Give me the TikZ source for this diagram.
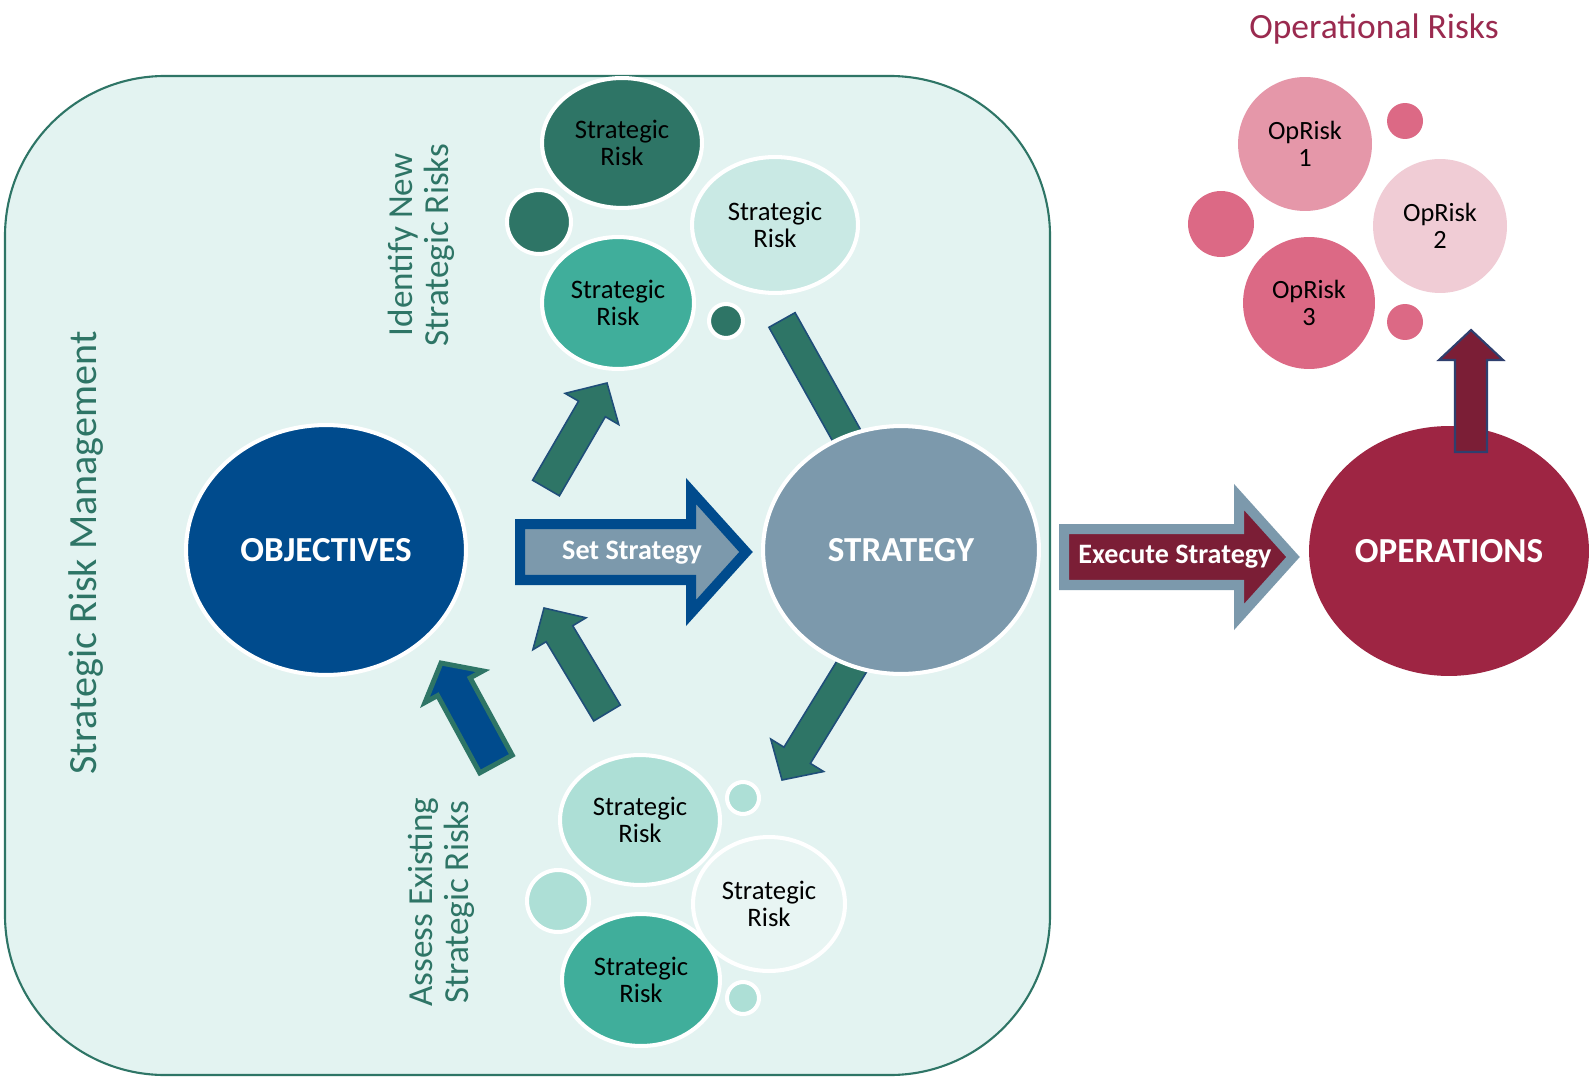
\documentclass[tikz,border=0pt]{standalone}
\usepackage{fontspec}
\setmainfont{Carlito}
\usetikzlibrary{shapes.geometric,calc}
\definecolor{bgbox}{HTML}{E3F3F1}
\definecolor{tealdark}{HTML}{2E7566}
\definecolor{tealmid}{HTML}{40AE9B}
\definecolor{teallight}{HTML}{C9E9E4}
\definecolor{tealpale}{HTML}{ADDFD6}
\definecolor{whitish}{HTML}{E8F5F3}
\definecolor{objblue}{HTML}{004B8D}
\definecolor{stratgray}{HTML}{7C99AC}
\definecolor{opsred}{HTML}{9E2543}
\definecolor{maroonA}{HTML}{7B1E36}
\definecolor{navyline}{HTML}{1F4E79}
\definecolor{upnavy}{HTML}{2F3F6E}
\definecolor{pinkA}{HTML}{E597A9}
\definecolor{pinkB}{HTML}{F0CCD5}
\definecolor{pinkC}{HTML}{DC6985}
\definecolor{optitle}{HTML}{9A2A4F}
% #1 style, #2 tail, #3 tip, #4 half shaft, #5 half head, #6 head length
\newcommand\blockarrow[6]{%
  \coordinate (ba-hb) at ($(#3)!#6!(#2)$);
  \draw[#1] ($(#2)!#4!90:(#3)$) -- ($(ba-hb)!#4!90:(#3)$) -- ($(ba-hb)!#5!90:(#3)$)
    -- (#3) -- ($(ba-hb)!#5!-90:(#3)$) -- ($(ba-hb)!#4!-90:(#3)$) -- ($(#2)!#4!-90:(#3)$) -- cycle;
}
\begin{document}
\begin{tikzpicture}[x=0.02cm,y=-0.02cm,
  bubble/.style={ellipse, draw=white, line width=2.3pt, inner sep=0pt, align=center,
    font=\fontsize{15.2}{15.8}\selectfont},
  dot/.style={circle, draw=white, line width=2.3pt, inner sep=0pt, minimum size=#1*0.04cm},
  sz/.style 2 args={minimum width=#1*0.04cm, minimum height=#2*0.04cm},
  bigell/.style={ellipse, draw=white, line width=2.3pt, inner sep=0pt, text=white,
    font=\fontsize{20}{24}\selectfont\bfseries},
  tealarrow/.style={fill=tealdark, draw=navyline, line width=0.9pt, line join=miter},
  sidelabel/.style={text=tealdark, align=center, rotate=90},
  arrowtext/.style={text=white, font=\fontsize{16}{19}\selectfont\bfseries},
  opbubble/.style={bubble, draw=none, font=\fontsize{15}{15.6}\selectfont}
]
\useasboundingbox (0,0) rectangle (1594,1084);
\fill[white] (0,0) rectangle (1594,1084);

% main box
\draw[fill=bgbox, draw=tealdark, line width=1.2pt, rounded corners=3.2cm] (5,76) rectangle (1050,1075);

% side labels
\node[sidelabel, font=\fontsize{22.8}{26}\selectfont] (srm) at (86,553) {Strategic Risk Management};
\node[sidelabel, font=\fontsize{20}{20.5}\selectfont] (identify) at (421,245) {Identify New\\Strategic Risks};
\node[sidelabel, font=\fontsize{20}{20.5}\selectfont] (assess) at (441,902) {Assess Existing\\Strategic Risks};

% arrow end points
\coordinate (a1t) at (546,488); \coordinate (a1h) at (607,383);
\coordinate (a2t) at (782,320); \coordinate (a2h) at (876,488);
\coordinate (a3t) at (607,713); \coordinate (a3h) at (544,608);
\coordinate (a4t) at (868,640); \coordinate (a4h) at (782,780);
\coordinate (abt) at (496,764); \coordinate (abh) at (441,663);
\coordinate (sst) at (520,552); \coordinate (ssh) at (746,552);
\coordinate (ext) at (1064,557); \coordinate (exh) at (1293,557);
\coordinate (upt) at (1471,452); \coordinate (uph) at (1471,330);

% arrows hidden behind STRATEGY
\blockarrow{tealarrow}{a2t}{a2h}{0.3cm}{0.62cm}{0.6cm}
\blockarrow{tealarrow}{a4t}{a4h}{0.31cm}{0.62cm}{0.58cm}

% big ellipses
\node[bigell, fill=objblue, sz={140}{125}] (obj) at (326,550) {OBJECTIVES};
\node[bigell, fill=stratgray, sz={138}{124}] (strat) at (901,550) {STRATEGY};
\node[bigell, fill=opsred, draw=none, sz={140}{125}] (ops) at (1449,551) {OPERATIONS};

% other arrows
\blockarrow{tealarrow}{a1t}{a1h}{0.31cm}{0.62cm}{0.6cm}
\blockarrow{tealarrow}{a3t}{a3h}{0.31cm}{0.62cm}{0.6cm}
\blockarrow{fill=objblue, draw=tealdark, line width=2.8pt, line join=miter}{abt}{abh}{0.37cm}{0.66cm}{0.54cm}
\blockarrow{fill=stratgray, draw=objblue, line width=5.7pt, line join=miter}{sst}{ssh}{0.56cm}{1.22cm}{1.1cm}
\blockarrow{fill=maroonA, draw=stratgray, line width=5.7pt, line join=miter}{ext}{exh}{0.56cm}{1.2cm}{1.08cm}
\blockarrow{fill=maroonA, draw=upnavy, line width=1.2pt, line join=miter}{upt}{uph}{0.32cm}{0.64cm}{0.6cm}

\node[arrowtext] (sslabel) at (632,553) {Set Strategy};
\node[arrowtext] (exlabel) at (1175,557) {Execute Strategy};

% top cluster of strategic risks
\node[bubble, fill=tealdark, sz={80}{65}] (sr1) at (622,143) {Strategic\\Risk};
\node[bubble, fill=teallight, sz={83}{68}] (sr2) at (775,225) {Strategic\\Risk};
\node[bubble, fill=tealmid, sz={76}{66}] (sr3) at (618,303) {Strategic\\Risk};
\node[dot=32, fill=tealdark] (d1) at (539,222) {};
\node[dot=17, fill=tealdark] (d2) at (726,321) {};

% bottom cluster
\node[bubble, fill=tealpale, sz={80}{65}] (sr4) at (640,820) {Strategic\\Risk};
\node[bubble, fill=whitish, sz={76}{67}] (sr5) at (769,904) {Strategic\\Risk};
\node[bubble, fill=tealmid, sz={79}{66}] (sr6) at (641,980) {Strategic\\Risk};
\node[dot=31, fill=tealpale] (d3) at (558,901) {};
\node[dot=16, fill=tealpale] (d4) at (743,798) {};
\node[dot=16, fill=tealpale] (d5) at (743,998) {};

% operational risks
\node[text=optitle, font=\fontsize{20.2}{23}\selectfont] (optitle) at (1374,29) {Operational Risks};
\node[opbubble, fill=pinkA, sz={67}{67}] (op1) at (1305,144) {OpRisk\\1};
\node[opbubble, fill=pinkB, sz={67}{67}] (op2) at (1440,226) {OpRisk\\2};
\node[opbubble, fill=pinkC, sz={66}{66}] (op3) at (1309,303) {OpRisk\\3};
\node[dot=33, fill=pinkC, draw=none] (d6) at (1221,224) {};
\node[dot=18, fill=pinkC, draw=none] (d7) at (1405,121) {};
\node[dot=18, fill=pinkC, draw=none] (d8) at (1405,322) {};
\end{tikzpicture}
\end{document}
